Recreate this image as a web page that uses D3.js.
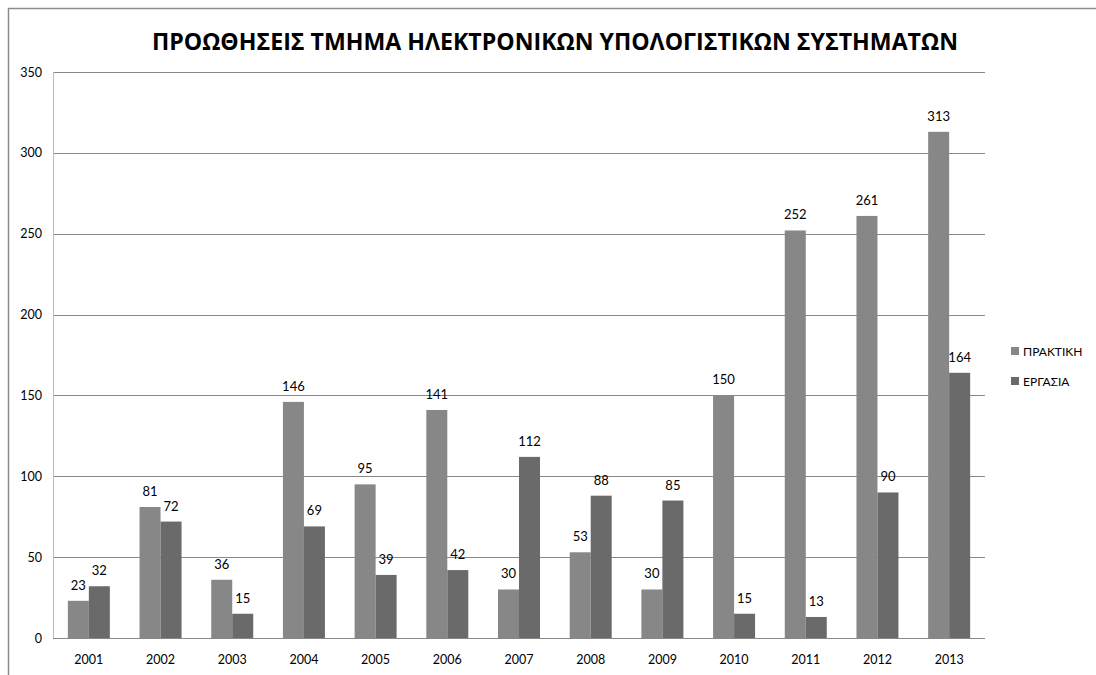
<!DOCTYPE html>
<html>
<head>
<meta charset="utf-8">
<script src="https://cdn.jsdelivr.net/npm/d3@7"></script>
<style>
  html, body { margin: 0; padding: 0; background: #fff; }
  svg { display: block; }
</style>
</head>
<body>
<svg id="chart" width="1096" height="675"></svg>
<script>
// Promotions per year for the department
const years = ["2001","2002","2003","2004","2005","2006","2007","2008","2009","2010","2011","2012","2013"];
const praktiki = [23, 81, 36, 146, 95, 141, 30, 53, 30, 150, 252, 261, 313];
const ergasia  = [32, 72, 15, 69, 39, 42, 112, 88, 85, 15, 13, 90, 164];
const seriesNames = ["ΠΡΑΚΤΙΚΗ", "ΕΡΓΑΣΙΑ"];
const seriesColors = ["#878787", "#6a6a6a"];
const yTicks = [0, 50, 100, 150, 200, 250, 300, 350];
const title = "ΠΡΟΩΘΗΣΕΙΣ ΤΜΗΜΑ ΗΛΕΚΤΡΟΝΙΚΩΝ ΥΠΟΛΟΓΙΣΤΙΚΩΝ ΣΥΣΤΗΜΑΤΩΝ";

const font = "Lato, 'Open Sans', sans-serif";
const svg = d3.select("#chart");

// outer chart frame (extends past the visible area on the right and bottom)
svg.append("rect")
  .attr("x", 8.5).attr("y", 8.5)
  .attr("width", 1200).attr("height", 800)
  .attr("fill", "none").attr("stroke", "#8c8c8c").attr("stroke-width", 1.5);

const plot = { left: 53, right: 985, top: 72, bottom: 638 };

const x = d3.scaleBand().domain(years).range([plot.left, plot.right]).paddingInner(0).paddingOuter(0);
const inner = d3.scaleBand().domain([0, 1]).range([0, x.bandwidth()]).paddingInner(0).paddingOuter(0.707);
const y = d3.scaleLinear().domain([0, 350]).range([plot.bottom, plot.top]);

// gridlines
svg.append("g")
  .selectAll("line")
  .data(yTicks.filter(d => d > 0))
  .join("line")
  .attr("x1", plot.left).attr("x2", plot.right)
  .attr("y1", d => Math.round(y(d)) + 0.5).attr("y2", d => Math.round(y(d)) + 0.5)
  .attr("stroke", "#888").attr("stroke-width", 1);

// y axis labels
const yAxis = d3.axisLeft(y).tickValues(yTicks).tickSize(0).tickPadding(11);
const gy = svg.append("g").attr("transform", `translate(${plot.left},0)`).call(yAxis);
gy.select(".domain").remove();
gy.selectAll("text").attr("font-family", font).attr("font-size", 12.5).attr("fill", "#000");

// bars
const data = years.map((yr, i) => ({ yr, vals: [praktiki[i], ergasia[i]] }));
const groups = svg.append("g").selectAll("g").data(data).join("g")
  .attr("transform", d => `translate(${x(d.yr)},0)`);

groups.selectAll("rect")
  .data(d => d.vals.map((v, k) => ({ v, k })))
  .join("rect")
  .attr("x", d => inner(d.k))
  .attr("width", inner.bandwidth())
  .attr("y", d => y(d.v))
  .attr("height", d => y(0) - y(d.v))
  .attr("fill", d => seriesColors[d.k]);

groups.selectAll("text")
  .data(d => d.vals.map((v, k) => ({ v, k })))
  .join("text")
  .attr("x", d => inner(d.k) + inner.bandwidth() / 2)
  .attr("y", d => y(d.v) - 11)
  .attr("text-anchor", "middle")
  .attr("font-family", font).attr("font-size", 13).attr("fill", "#000")
  .text(d => d.v);

// axis lines
svg.append("line")
  .attr("x1", plot.left + 0.5).attr("x2", plot.left + 0.5)
  .attr("y1", plot.top).attr("y2", plot.bottom)
  .attr("stroke", "#bbb").attr("stroke-width", 1);
svg.append("line")
  .attr("x1", plot.left).attr("x2", plot.right)
  .attr("y1", plot.bottom + 0.5).attr("y2", plot.bottom + 0.5)
  .attr("stroke", "#888").attr("stroke-width", 1);

// x axis labels
const xAxis = d3.axisBottom(x).tickSize(0).tickPadding(17);
const gx = svg.append("g").attr("transform", `translate(0,${plot.bottom})`).call(xAxis);
gx.select(".domain").remove();
gx.selectAll("text").attr("font-family", font).attr("font-size", 12.5).attr("fill", "#000");

// title
svg.append("text")
  .attr("x", 555).attr("y", 50)
  .attr("text-anchor", "middle")
  .attr("font-family", "'Open Sans', 'Noto Sans', sans-serif").attr("font-weight", "bold").attr("font-size", 22.5)
  .attr("textLength", 806).attr("lengthAdjust", "spacingAndGlyphs")
  .attr("fill", "#000")
  .text(title);

// legend
const legend = svg.append("g").selectAll("g").data(seriesNames).join("g")
  .attr("transform", (d, i) => `translate(1011,${347 + i * 30})`);
legend.append("rect").attr("width", 8).attr("height", 8)
  .attr("fill", (d, i) => seriesColors[i]);
legend.append("text").attr("x", 12).attr("y", 8.5)
  .attr("font-family", font).attr("font-size", 12).attr("fill", "#000")
  .text(d => d);
</script>
</body>
</html>
